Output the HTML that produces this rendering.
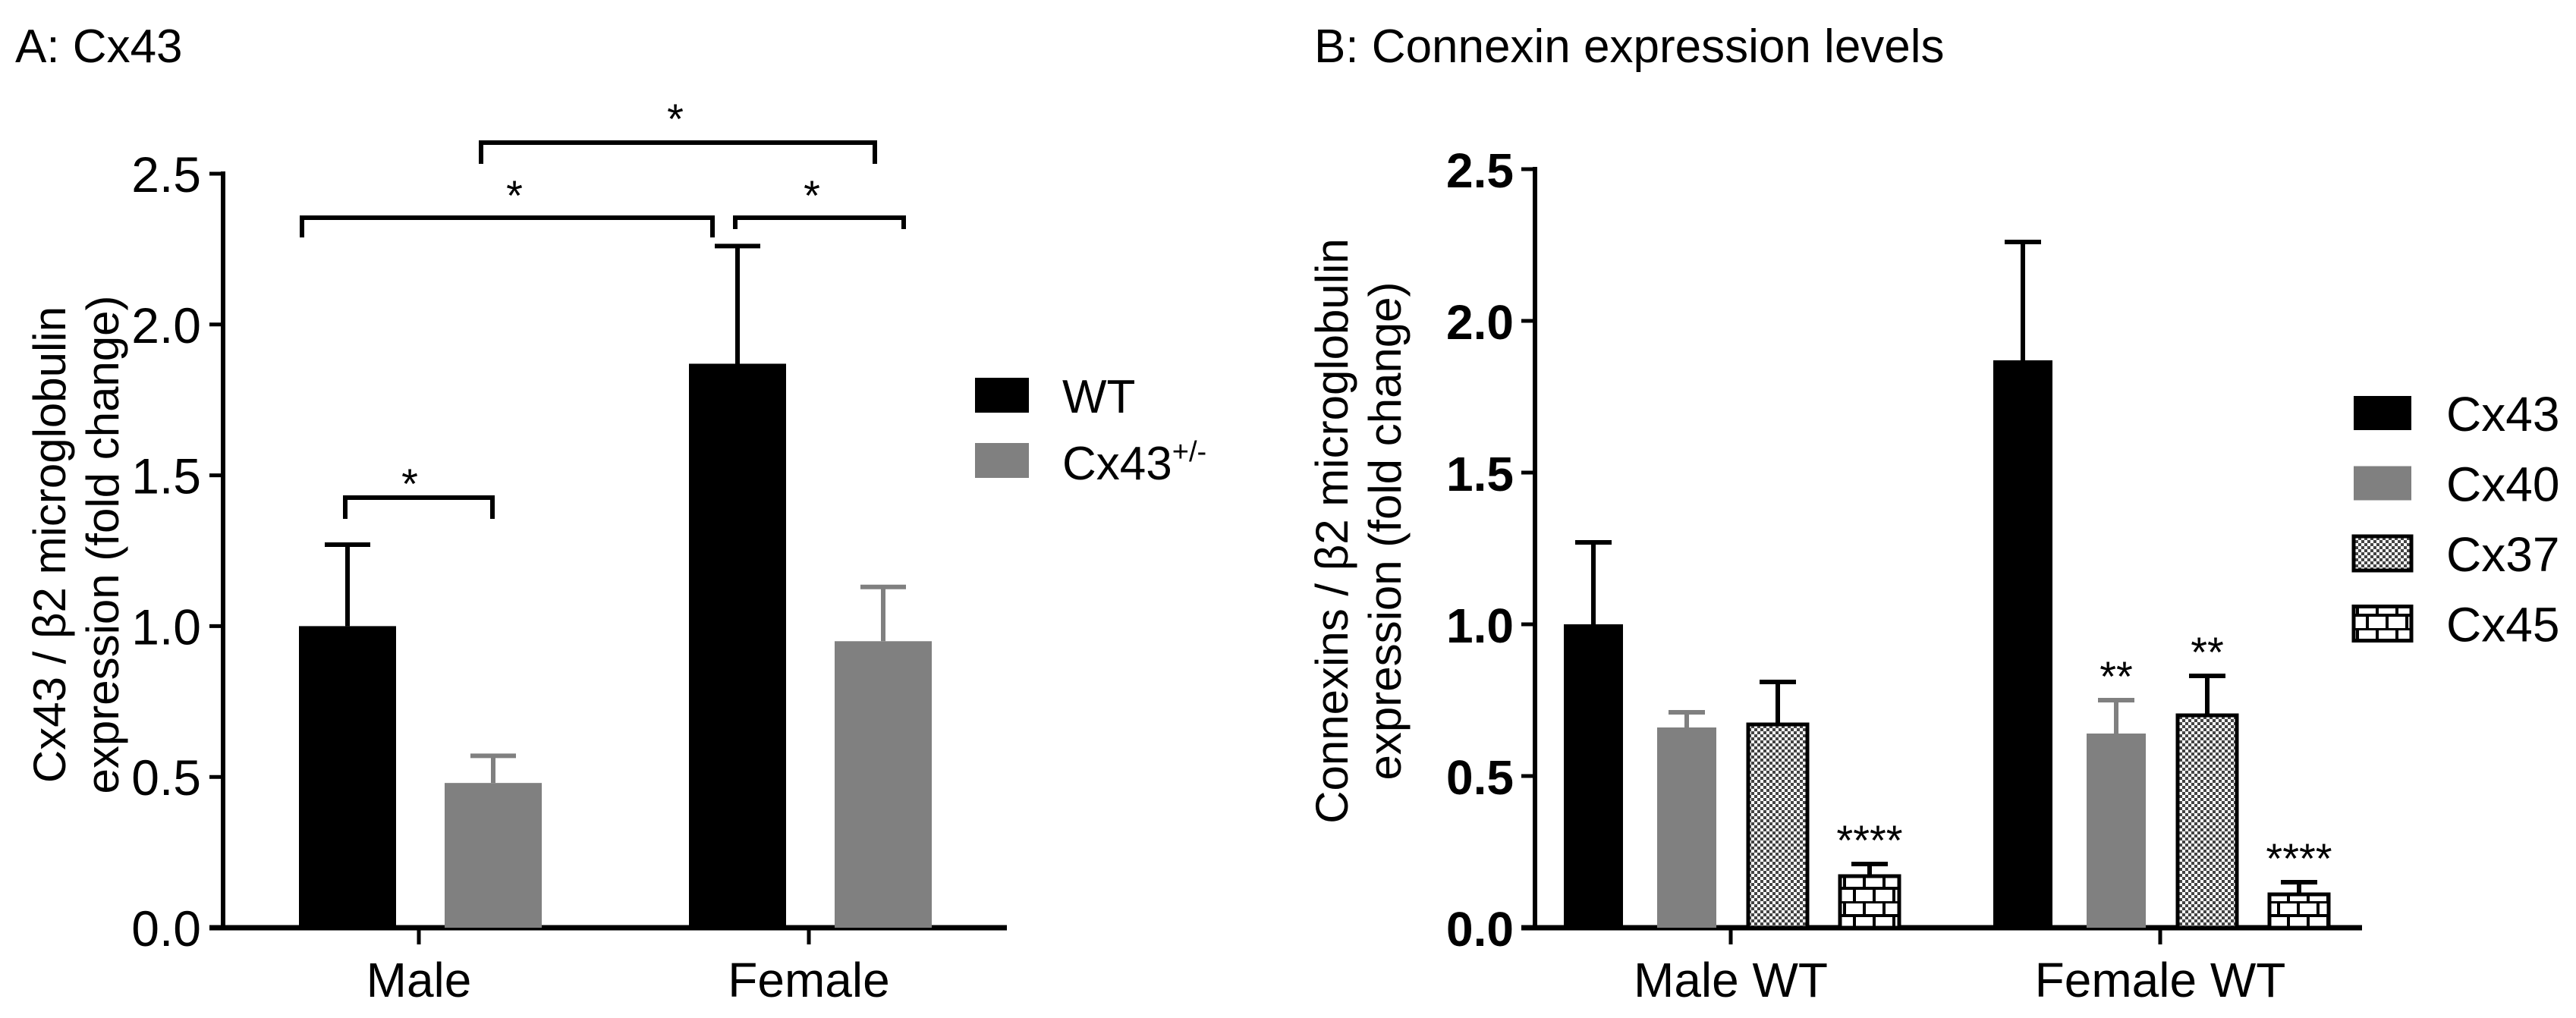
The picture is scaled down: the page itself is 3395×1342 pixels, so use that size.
<!DOCTYPE html>
<html><head><meta charset="utf-8"><style>
html,body{margin:0;padding:0;background:#fff}
svg{display:block}
text{font-family:"Liberation Sans",sans-serif;fill:#000}
</style></head><body>
<svg id="chart" width="3395" height="1342" viewBox="0 0 3395 1342" xmlns="http://www.w3.org/2000/svg">
<defs>
<pattern id="checker" width="8" height="8" patternUnits="userSpaceOnUse">
<rect width="8" height="8" fill="#fff"/><rect width="4" height="4" fill="#444"/><rect x="4" y="4" width="4" height="4" fill="#444"/>
</pattern>
<pattern id="brick" width="52" height="36" patternUnits="userSpaceOnUse">
<rect width="52" height="36" fill="#fff"/>
<path d="M0 1H52M0 19H52M13 0V18M39 0V18M0 18V36M26 18V36M52 18V36" stroke="#000" stroke-width="4"/>
</pattern>
</defs>
<text x="20" y="82" font-size="62">A: Cx43</text>
<text x="1732" y="82" font-size="62">B: Connexin expression levels</text>
<g id="pa"></g><g id="pb"></g>
</svg>
<script>
const NS="http://www.w3.org/2000/svg";
// Panel A data
const catsA=["Male","Female"];
const seriesA=["WT","Cx43+/-"];
const wtVals=[1.0,1.87];
const wtErr=[0.27,0.39];
const hetVals=[0.48,0.95];
const hetErr=[0.09,0.18];
const ticksA=["0.0","0.5","1.0","1.5","2.0","2.5"];
// Panel B data
const catsB=["Male WT","Female WT"];
const seriesB=["Cx43","Cx40","Cx37","Cx45"];
const cx43Vals=[1.0,1.87];
const cx43Err=[0.27,0.39];
const cx40Vals=[0.66,0.64];
const cx40Err=[0.05,0.11];
const cx37Vals=[0.67,0.70];
const cx37Err=[0.14,0.13];
const cx45Vals=[0.17,0.11];
const cx45Err=[0.04,0.04];
const sigB=[["","","","****"],["","**","**","****"]];
const ticksB=["0.0","0.5","1.0","1.5","2.0","2.5"];

function mk(tag,attrs,parent,txt){const e=document.createElementNS(NS,tag);for(const k in attrs)e.setAttribute(k,attrs[k]);if(txt!==undefined)e.textContent=txt;parent.appendChild(e);return e;}

// ---------- Panel A ----------
const ga=document.getElementById('pa');
const A={x0:294,x1:1327,y0:1223,y1:229,max:2.5};
const yA=v=>A.y0-(v/A.max)*(A.y0-A.y1);
const catCenterA=[552,1066];
const barW=128, offA=[-94,98];
let e;
e=mk('line',{x1:A.x0,y1:A.y1-3,x2:A.x0,y2:A.y0,stroke:'#000','stroke-width':6},ga);

e=mk('line',{x1:A.x0-18,y1:A.y0,x2:A.x1,y2:A.y0,stroke:'#000','stroke-width':7},ga);

ticksA.forEach(t=>{const y=yA(parseFloat(t));
 e=mk('line',{x1:A.x0-18,y1:y,x2:A.x0,y2:y,stroke:'#000','stroke-width':5},ga);
 
 e=mk('text',{x:265,y:y+24,'font-size':66,'text-anchor':'end'},ga,t);
 });
catsA.forEach((c,i)=>{
 e=mk('line',{x1:catCenterA[i],y1:A.y0,x2:catCenterA[i],y2:A.y0+22,stroke:'#000','stroke-width':5},ga);
 
 e=mk('text',{x:catCenterA[i],y:1314,'font-size':64,'text-anchor':'middle'},ga,c);
 });
const colA=['#000','#808080'];
[[wtVals,wtErr],[hetVals,hetErr]].forEach((s,si)=>{
 s[0].forEach((v,i)=>{const cx=catCenterA[i]+offA[si];
  e=mk('line',{x1:cx,y1:yA(v),x2:cx,y2:yA(v+s[1][i]),stroke:colA[si],'stroke-width':6},ga);
  
  e=mk('line',{x1:cx-30,y1:yA(v+s[1][i]),x2:cx+30,y2:yA(v+s[1][i]),stroke:colA[si],'stroke-width':6},ga);
  
  e=mk('rect',{x:cx-barW/2,y:yA(v),width:barW,height:A.y0-yA(v),fill:colA[si]},ga);
  
 });});
[[455,649,656,684,540,633],[398,939,287,313,678,253],[969,1191,287,302,1070,253],[634,1153,188,216,890,152]].forEach(b=>{
 e=mk('path',{d:`M${b[0]} ${b[3]}V${b[2]}H${b[1]}V${b[3]}`,fill:'none',stroke:'#000','stroke-width':6},ga);
 
 e=mk('text',{x:b[4],y:b[5]+24,'font-size':56,'text-anchor':'middle'},ga,'*');
 });
e=mk('rect',{x:1285,y:498,width:71,height:46,fill:'#000'},ga);

e=mk('text',{x:1400,y:544,'font-size':62},ga,'WT');

e=mk('rect',{x:1285,y:584,width:71,height:46,fill:'#808080'},ga);

e=mk('text',{x:1400,y:632,'font-size':62},ga);

mk('tspan',{},e,'Cx43');mk('tspan',{dy:-24,'font-size':38},e,'+/-');
e=mk('text',{transform:'translate(86,718) rotate(-90)','font-size':60,'text-anchor':'middle'},ga,'Cx43 / β2 microglobulin');

e=mk('text',{transform:'translate(156,718) rotate(-90)','font-size':60,'text-anchor':'middle'},ga,'expression (fold change)');


// ---------- Panel B ----------
const gb=document.getElementById('pb');
const B={x0:2023,x1:3113,y0:1223,y1:223,max:2.5};
const yB=v=>B.y0-(v/B.max)*(B.y0-B.y1);
const catCenterB=[2281,2847];
const offB=[-181,-58,62,183];
const barWB=78;
e=mk('line',{x1:B.x0,y1:B.y1-3,x2:B.x0,y2:B.y0,stroke:'#000','stroke-width':6},gb);

e=mk('line',{x1:B.x0-18,y1:B.y0,x2:B.x1,y2:B.y0,stroke:'#000','stroke-width':7},gb);

ticksB.forEach(t=>{const y=yB(parseFloat(t));
 e=mk('line',{x1:B.x0-18,y1:y,x2:B.x0,y2:y,stroke:'#000','stroke-width':5},gb);
 
 e=mk('text',{x:1995,y:y+24,'font-size':64,'font-weight':'bold','text-anchor':'end'},gb,t);
 });
catsB.forEach((c,i)=>{
 e=mk('line',{x1:catCenterB[i],y1:B.y0,x2:catCenterB[i],y2:B.y0+22,stroke:'#000','stroke-width':5},gb);
 
 e=mk('text',{x:catCenterB[i],y:1314,'font-size':64,'text-anchor':'middle'},gb,c);
 });
const fillB=['#000','#808080','url(#checker)','url(#brick)'];
const errColB=['#000','#808080','#000','#000'];
[[cx43Vals,cx43Err],[cx40Vals,cx40Err],[cx37Vals,cx37Err],[cx45Vals,cx45Err]].forEach((s,si)=>{
 s[0].forEach((v,i)=>{const cx=catCenterB[i]+offB[si];const top=yB(v+s[1][i]);
  e=mk('line',{x1:cx,y1:yB(v),x2:cx,y2:top,stroke:errColB[si],'stroke-width':6},gb);
  
  e=mk('line',{x1:cx-24,y1:top,x2:cx+24,y2:top,stroke:errColB[si],'stroke-width':6},gb);
  
  e=mk('rect',{x:cx-barWB/2,y:yB(v),width:barWB,height:B.y0-yB(v),fill:fillB[si],stroke:si>=2?'#000':'none','stroke-width':5},gb);
  
  if(sigB[i][si]){e=mk('text',{x:cx,y:top-12,'font-size':56,'text-anchor':'middle'},gb,sigB[i][si]);
   }
 });});
seriesB.forEach((s,si)=>{const y=522+si*92.5;
 e=mk('rect',{x:3102,y:y,width:76,height:45,fill:fillB[si],stroke:si>=2?'#000':'none','stroke-width':5},gb);
 
 e=mk('text',{x:3224,y:y+46,'font-size':64},gb,s);
 });
e=mk('text',{transform:'translate(1776,700) rotate(-90)','font-size':60,'text-anchor':'middle'},gb,'Connexins / β2 microglobulin');

e=mk('text',{transform:'translate(1846,700) rotate(-90)','font-size':60,'text-anchor':'middle'},gb,'expression (fold change)');

</script>
</body></html>
